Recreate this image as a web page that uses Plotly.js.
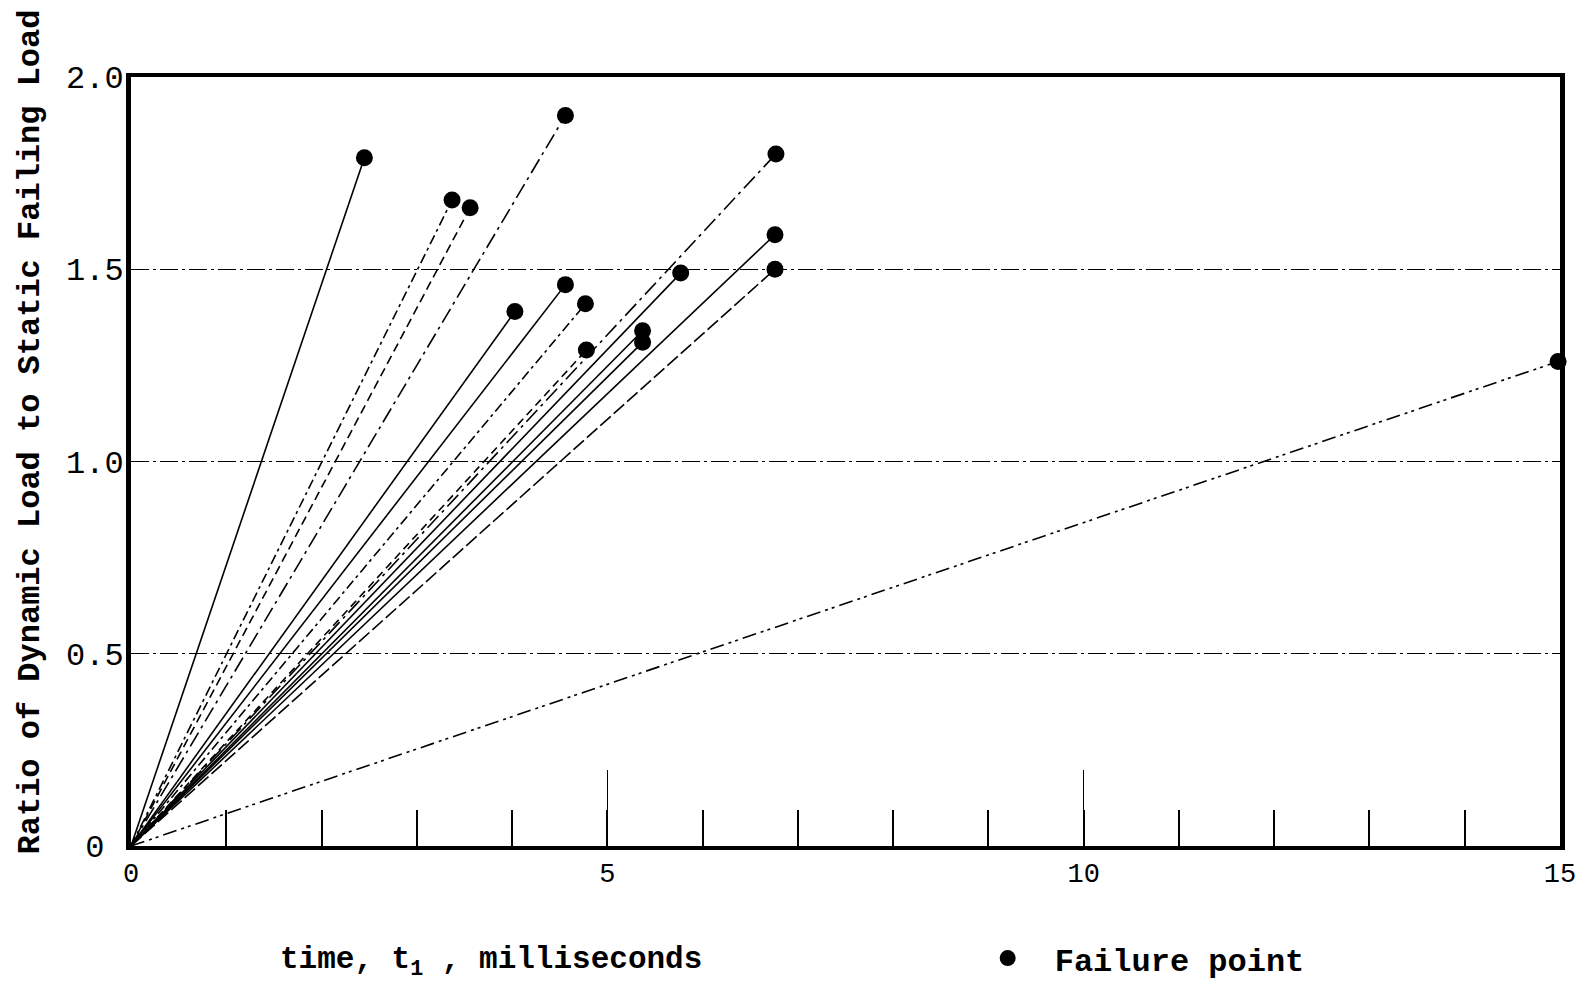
<!DOCTYPE html>
<html>
<head>
<meta charset="utf-8">
<script src="https://cdn.plot.ly/plotly-3.0.1.min.js"></script>
<style>
  html, body { margin: 0; padding: 0; background: #ffffff; }
  #chart { width: 1594px; height: 984px; }
</style>
</head>
<body>
<div id="chart"></div>
<script>
// Failure points: time to failure t1 (ms) and ratio of dynamic to static failing load
const failTime  = [2.45, 4.56, 3.37, 3.56, 6.77, 6.76, 6.76, 5.77, 4.56, 4.77, 4.03, 4.78, 5.37, 5.37, 14.98];
const failRatio = [1.79, 1.90, 1.68, 1.66, 1.80, 1.59, 1.50, 1.49, 1.46, 1.41, 1.39, 1.29, 1.34, 1.31, 1.26];

// Every loading line starts at the origin
const startTime = 0;
const startRatio = 0;

// Axis tick labels
const yTickVals = [0, 0.5, 1.0, 1.5, 2.0];
const yTickText = ['0\u00a0', '0.5', '1.0', '1.5', '2.0'];
const xTickVals = [0, 5, 10, 15];
const xTickText = ['0', '5', '10', '15'];

// Line pattern of each loading record
const lineDash = [
  'solid', '16px,5px,3px,5px', '10px,4px,3px,4px', '9px,5px', '16px,5px,3px,5px',
  'solid', '14px,4px', 'solid', 'solid', '10px,4px,3px,4px',
  'solid', '8px,5px', 'solid', 'solid', '14px,5px,3px,4px,3px,5px'
];

const MONO = '"Liberation Mono", "DejaVu Sans Mono", monospace';

const traces = failTime.map((t, i) => ({
  type: 'scatter',
  mode: 'lines',
  x: [startTime, t],
  y: [startRatio, failRatio[i]],
  line: { color: '#000', width: 1.6, dash: lineDash[i] },
  showlegend: false,
  hoverinfo: 'skip'
}));

traces.push({
  type: 'scatter',
  mode: 'markers',
  name: 'Failure point',
  x: failTime,
  y: failRatio,
  marker: { color: '#000', size: 17 },
  cliponaxis: false,
  showlegend: true
});

const layout = {
  width: 1594,
  height: 984,
  paper_bgcolor: '#ffffff',
  plot_bgcolor: '#ffffff',
  margin: { l: 131, r: 34, t: 77, b: 138, autoexpand: false },
  font: { family: MONO, color: '#000' },
  showlegend: true,
  legend: {
    x: 0.5806, xanchor: 'left',
    y: -0.146, yanchor: 'middle',
    font: { family: MONO, size: 32, color: '#000', weight: 'bold' },
    bgcolor: 'rgba(0,0,0,0)',
    itemwidth: 84
  },
  xaxis: {
    range: [0, 15],
    showline: true, linecolor: '#000', linewidth: 4, mirror: true,
    showgrid: false, zeroline: false,
    ticks: 'inside', ticklen: 76, tickwidth: 1.6, tickcolor: '#000',
    tickvals: xTickVals, ticktext: xTickText,
    tickfont: { family: MONO, size: 27, color: '#000' },
    ticklabelstandoff: 0,
    minor: { dtick: 1, ticks: 'inside', ticklen: 36, tickwidth: 2, tickcolor: '#000', showgrid: false },
    fixedrange: true
  },
  yaxis: {
    range: [0, 2],
    showline: true, linecolor: '#000', linewidth: 5, mirror: true,
    showgrid: true, gridcolor: '#000', gridwidth: 1.3, griddash: '18px,4px,3px,4px',
    zeroline: false,
    ticks: '',
    tickvals: yTickVals, ticktext: yTickText,
    tickfont: { family: MONO, size: 32, color: '#000' },
    ticklabelstandoff: -4,
    fixedrange: true
  },
  annotations: [
    {
      text: 'Ratio of Dynamic Load to Static Failing Load',
      xref: 'paper', yref: 'paper',
      x: -0.07, y: 0.539, xanchor: 'center', yanchor: 'middle',
      textangle: -90, showarrow: false,
      font: { family: MONO, size: 32, color: '#000', weight: 'bold' }
    },
    {
      text: 'time, t<sub>1</sub> , milliseconds',
      xref: 'paper', yref: 'paper',
      x: 0.252, y: -0.151, xanchor: 'center', yanchor: 'middle',
      showarrow: false,
      font: { family: MONO, size: 31, color: '#000', weight: 'bold' }
    }
  ]
};

Plotly.newPlot('chart', traces, layout, { staticPlot: true, displayModeBar: false });
</script>
</body>
</html>
